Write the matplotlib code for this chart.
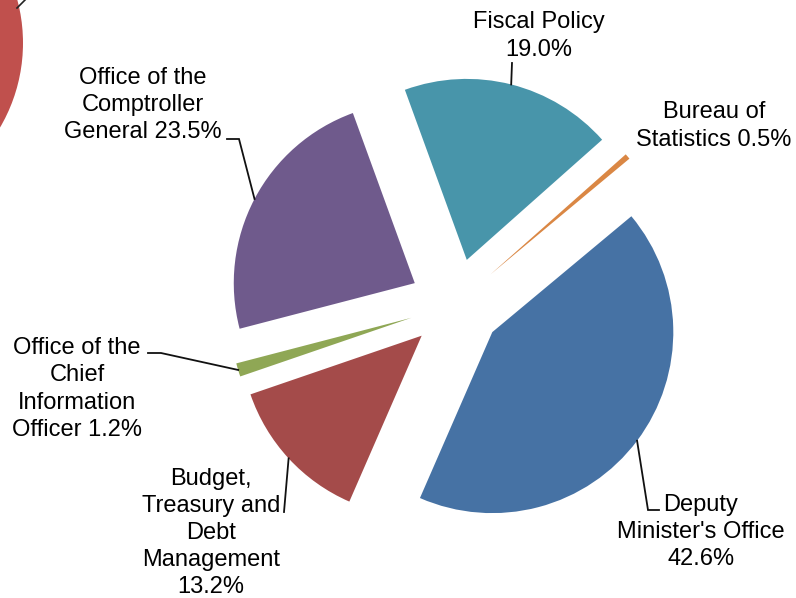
import numpy as np
import matplotlib
matplotlib.use('Agg')
import matplotlib.pyplot as plt
from matplotlib.patches import Circle

plt.rcParams['font.family'] = ['Liberation Sans', 'DejaVu Sans']

# data (clockwise from the top-left edge of Fiscal Policy)
labels = ['Fiscal Policy', 'Bureau of Statistics', "Deputy Minister's Office",
          'Budget, Treasury and Debt Management',
          'Office of the Chief Information Officer',
          'Office of the Comptroller General']
values = [19.0, 0.5, 42.6, 13.2, 1.2, 23.5]
label_text = ['Fiscal Policy\n19.0%', 'Bureau of\nStatistics 0.5%',
              "Deputy\nMinister's Office\n42.6%",
              'Budget,\nTreasury and\nDebt\nManagement\n13.2%',
              'Office of the\nChief\nInformation\nOfficer 1.2%',
              'Office of the\nComptroller\nGeneral 23.5%']
colors = ['#4895AA', '#DA8744', '#4672A4', '#A44B4A', '#8FA755', '#6F5A8C']

W, H = 796, 598
fig = plt.figure(figsize=(W / 100, H / 100), dpi=100)
ax = fig.add_axes([0, 0, 1, 1])

def P(x, y):
    # pixel coords of the picture -> data coords
    return (x, H - y)

R = 181
wedges, _ = ax.pie(values, colors=colors, startangle=110, counterclock=False,
                   explode=[46] * len(values), radius=R, center=P(455.5, 304.5),
                   wedgeprops=dict(linewidth=0))

# piece of a neighbouring chart at the top-left edge
ax.add_patch(Circle(P(-144, 43), 167, color='#C0504D', lw=0, zorder=0))
ax.plot(*zip(P(17, 8), P(26, -1)), color='#222222', lw=1.2)

def tip(w):
    a = np.deg2rad((w.theta1 + w.theta2) / 2)
    return (w.center[0] + w.r * np.cos(a), w.center[1] + w.r * np.sin(a))

# label position (pixel coords) and leader line elbows
pos = [(539, 36), (714, 126), (701, 532), (211, 533), (77, 389), (143, 105)]
elbows = [[(512, 63)], [], [(659, 510), (648, 510)], [(284, 512)],
          [(148, 353), (161, 353)], [(227, 139), (239, 139)]]

for w, t, p, el in zip(wedges, label_text, pos, elbows):
    ax.text(*P(*p), t, ha='center', va='center', fontsize=17, color='black',
            linespacing=1.3)
    if el:
        pts = [P(*e) for e in el] + [tip(w)]
        xs, ys = zip(*pts)
        ax.plot(xs, ys, color='#111111', lw=1.3, solid_joinstyle='miter')

ax.set_xlim(0, W)
ax.set_ylim(0, H)
ax.set_aspect('auto')
ax.axis('off')

fig.savefig('out.png', dpi=100)
